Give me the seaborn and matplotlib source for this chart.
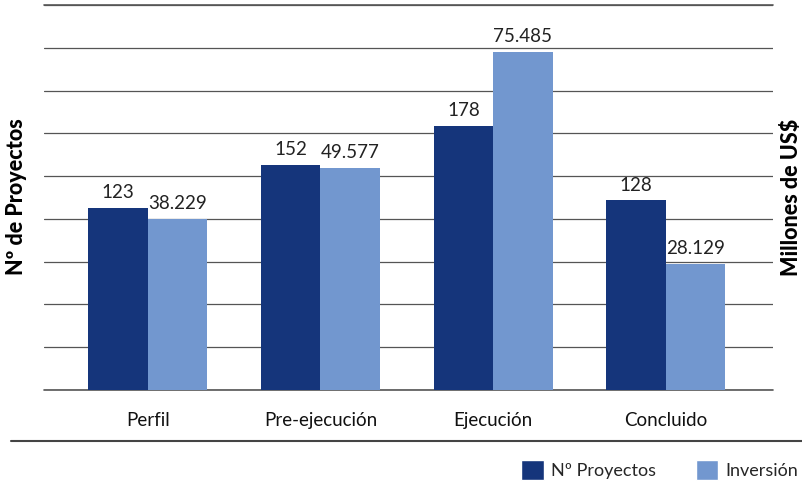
import numpy as np
import pandas as pd
import matplotlib.pyplot as plt
import matplotlib.patches as mpatches
from matplotlib.lines import Line2D
import seaborn as sns

# Datos
categorias = ['Perfil', 'Pre-ejecución', 'Ejecución', 'Concluido']
proyectos = [123, 152, 178, 128]
inversion = [38229, 49577, 75485, 28129]   # millones de US$
series = ['Nº Proyectos', 'Inversión']

CLR_DARK = '#15357b'
CLR_LIGHT = '#7297cf'
colores = {series[0]: CLR_DARK, series[1]: CLR_LIGHT}

sns.set_theme(style='white')
plt.rcParams['font.family'] = ['Lato', 'DejaVu Sans']

n = len(categorias)
# each axis gets both hue levels so the dodge is kept; the other series is empty
df_left = pd.DataFrame({'Etapa': categorias * 2,
                        'Serie': [series[0]] * n + [series[1]] * n,
                        'Valor': proyectos + [np.nan] * n})
df_right = pd.DataFrame({'Etapa': categorias * 2,
                         'Serie': [series[0]] * n + [series[1]] * n,
                         'Valor': [np.nan] * n + inversion})

fig = plt.figure(figsize=(8.02, 4.82), dpi=100)
ax = fig.add_axes([44 / 802, 1 - 390 / 482, (773 - 44) / 802, 385 / 482])
ax2 = ax.twinx()

common = dict(x='Etapa', y='Valor', hue='Serie', hue_order=series, order=categorias,
              palette=colores, width=0.69, saturation=1, legend=False, errorbar=None,
              linewidth=0)
sns.barplot(data=df_left, ax=ax, **common)
sns.barplot(data=df_right, ax=ax2, **common)

ymax_left = 260
ymax_right = 86000
ax.set_ylim(0, ymax_left)
ax2.set_ylim(0, ymax_right)
ax.set_xlim(-0.6, 3.62)

# gridlines (9 intervals)
ax.set_yticks(np.linspace(0, ymax_left, 10))
ax.set_yticklabels([])
ax2.set_yticks([])
ax.yaxis.grid(True, color='#555555', linewidth=0.9)
ax.axhline(0, color='#555555', linewidth=1.2, clip_on=False, zorder=0.5)
ax.axhline(ymax_left, color='#555555', linewidth=1.2, clip_on=False, zorder=0.5)
ax.set_axisbelow(True)
ax.tick_params(axis='both', length=0)
ax.tick_params(axis='x', pad=16, labelsize=13.5, colors='#111111')
ax2.tick_params(axis='both', length=0)

for a in (ax, ax2):
    for s in a.spines.values():
        s.set_visible(False)
    a.set_xlabel('')
    a.set_ylabel('')

fmt = lambda v: '' if np.isnan(v) else f'{v:,.0f}'.replace(',', '.')
for a in (ax, ax2):
    for cont in a.containers:
        a.bar_label(cont, labels=[fmt(v) for v in cont.datavalues],
                    padding=5, fontsize=13.5, color='#222222')

fig.text(17 / 802, 1 - 197 / 482, 'Nº de Proyectos', rotation=90, ha='center',
         va='center', fontsize=15.5, fontweight='black', color='#000000')
fig.text(791 / 802, 1 - 197 / 482, 'Millones de US$', rotation=90, ha='center',
         va='center', fontsize=15.5, fontweight='black', color='#000000')

fig.add_artist(Line2D([11 / 802, 1.0], [1 - 441 / 482] * 2, color='#444444',
                      linewidth=1.5, transform=fig.transFigure))

handles = [mpatches.Patch(facecolor=colores[s], label=s) for s in series]
fig.legend(handles=handles, loc='center right', bbox_to_anchor=(1.0, 1 - 470 / 482),
           ncol=2, frameon=False, fontsize=13, handlelength=1.25, handleheight=1.25,
           handletextpad=0.4, columnspacing=2.2, borderpad=0.1, borderaxespad=0.1)

fig.savefig('out.png', dpi=100)
